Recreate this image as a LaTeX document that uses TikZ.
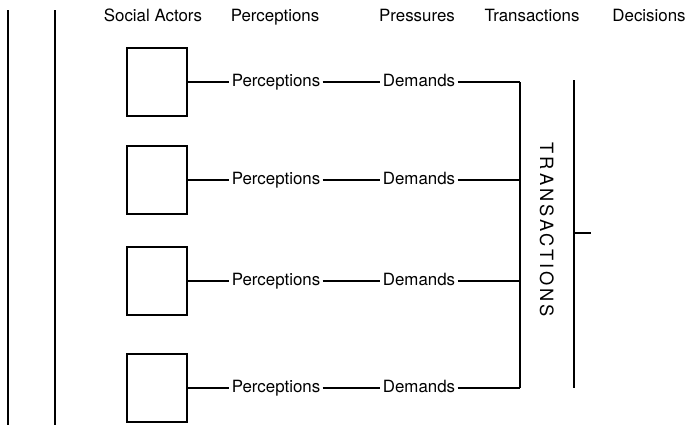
\documentclass[tikz,border=0pt]{standalone}
\usepackage{fontspec}
\setmainfont{TeX Gyre Heros}
\usetikzlibrary{positioning}
\begin{document}
\begin{tikzpicture}[x=0.025cm,y=-0.025cm,line width=1.6pt,
	actor/.style={draw,minimum width=1.5cm,minimum height=1.7cm,inner sep=0pt},
	lab/.style={font=\fontsize{12}{14}\selectfont,inner sep=1pt,text height=7pt,text depth=0pt}]
\useasboundingbox (0,0) rectangle (686,429);
	\draw (8,10)--(8,425);
	\draw (55,10)--(55,425);
	\node[lab] (hact) at (153,17) {Social Actors};
	\node[lab] (hper) at (275,17) {Perceptions};
	\node[lab] (hpre) at (417,17) {Pressures};
	\node[lab] (htra) at (532,17) {Transactions};
	\node[lab] (hdec) at (649,17) {Decisions};
	\foreach \i/\y in {1/82,2/180,3/281,4/388}
		{
		   \node[actor] (box\i) at (157,\y) {};
		   \node[lab] (per\i) at (276,\y) {Perceptions};
		   \node[lab] (dem\i) at (419,\y) {Demands};
		   \coordinate (t\i) at (520,\y);
		   \draw (box\i)--(per\i);
		   \draw (per\i)--(dem\i);
		   \draw (dem\i)--(t\i);
		}
	\draw (t1)--(t4);
	\node[lab,rotate=-90,font=\fontsize{13}{15}\selectfont] (trans) at (545,230) {\addfontfeature{LetterSpace=16}TRANSACTIONS};

	\coordinate (d1) at (574,80); \coordinate (d2) at (574,388);
	\coordinate (dm) at (574,233); \coordinate (dtip) at (591,233);
	\draw (d1)--(d2);	\draw (dm)--(dtip);
	\end{tikzpicture}
\end{document}
